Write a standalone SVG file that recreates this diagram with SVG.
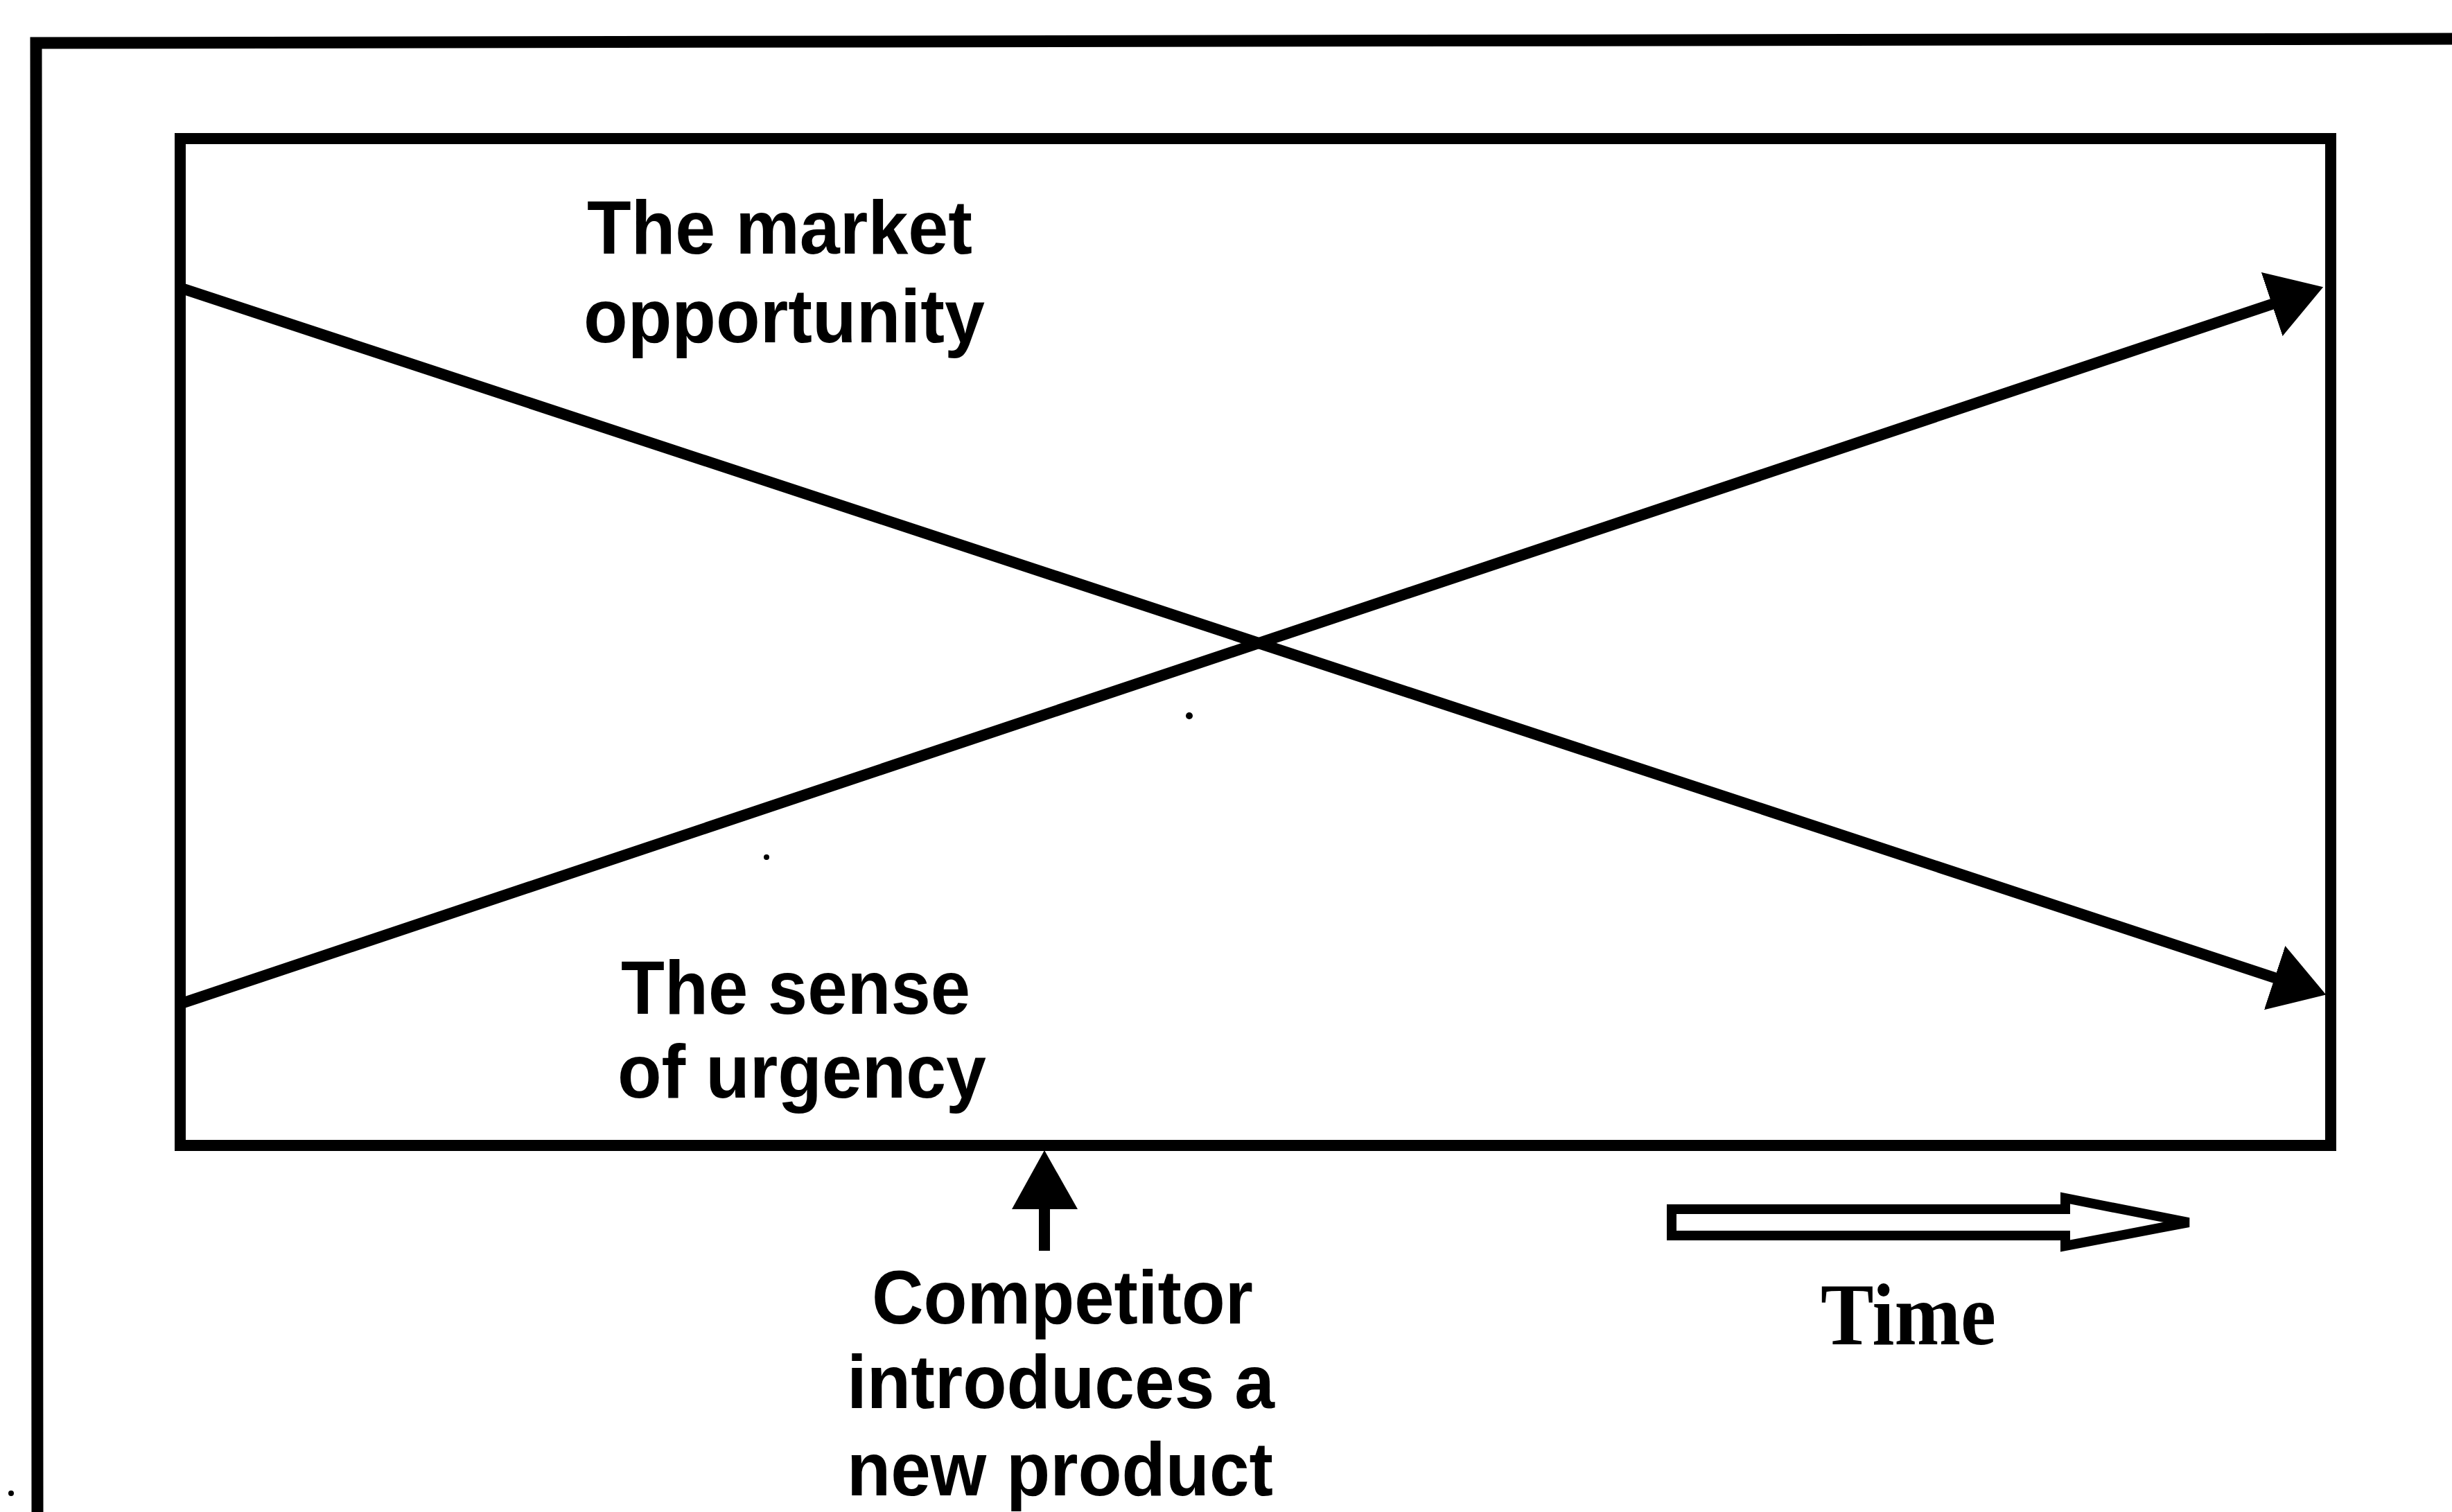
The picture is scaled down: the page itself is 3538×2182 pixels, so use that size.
<svg xmlns="http://www.w3.org/2000/svg" width="3538" height="2182" viewBox="0 0 3538 2182">
<defs>
<style>
.frame{fill:none;stroke:#000;stroke-width:17;stroke-linejoin:miter}
.box{fill:none;stroke:#000;stroke-width:16}
.ln{fill:none;stroke:#000;stroke-width:16}
.lbl{font-family:"Liberation Sans",Arial,sans-serif;font-weight:bold;font-size:110px;fill:#000}
.tm{font-family:"Liberation Serif","Times New Roman",serif;font-weight:bold;font-size:126px;fill:#000}
.dot{fill:#000}
</style>
<marker id="ah" markerUnits="userSpaceOnUse" markerWidth="80" markerHeight="100" refX="3" refY="48.5" orient="auto" viewBox="0 0 80 100">
<path d="M0,0 L78,48.5 L0,97 Z" fill="#000"/>
</marker>
</defs>
<rect width="3538" height="2182" fill="#fff"/>
<g id="frame">
<path class="frame" d="M54,2182 L52,62 L3538,56"/>
<circle class="dot" cx="16" cy="2155" r="4"/>
</g>
<g id="chart-box">
<rect class="box" x="260" y="200" width="3103" height="1453"/>
<circle class="dot" cx="1716" cy="1033" r="5"/>
<circle class="dot" cx="1106" cy="1237" r="4"/>
</g>
<g id="connectors">
<line id="market-line" class="ln" x1="262" y1="416" x2="3285" y2="1412" marker-end="url(#ah)"/>
<line id="urgency-line" class="ln" x1="262" y1="1448" x2="3281" y2="438" marker-end="url(#ah)"/>
<g id="competitor-arrow">
<line class="ln" x1="1507" y1="1740" x2="1507" y2="1805"/>
<polygon points="1507,1660 1555,1745 1460,1745" fill="#000"/>
</g>
<g id="time-arrow">
<polygon points="2412,1745 2980,1745 2980,1729 3158,1764 2980,1798 2980,1783 2412,1783" fill="#fff" stroke="#000" stroke-width="14" stroke-linejoin="miter"/>
</g>
</g>
<g id="label-market">
<text class="lbl" x="847" y="366" textLength="556" lengthAdjust="spacingAndGlyphs">The market</text>
<text class="lbl" x="842" y="494" textLength="579" lengthAdjust="spacingAndGlyphs">opportunity</text>
</g>
<g id="label-urgency">
<text class="lbl" x="896" y="1463" textLength="504" lengthAdjust="spacingAndGlyphs">The sense</text>
<text class="lbl" x="891" y="1584" textLength="532" lengthAdjust="spacingAndGlyphs">of urgency</text>
</g>
<g id="label-competitor">
<text class="lbl" x="1258" y="1910" textLength="550" lengthAdjust="spacingAndGlyphs">Competitor</text>
<text class="lbl" x="1222" y="2032" textLength="617" lengthAdjust="spacingAndGlyphs">introduces a</text>
<text class="lbl" x="1222" y="2158" textLength="615" lengthAdjust="spacingAndGlyphs">new product</text>
</g>
<g id="label-time">
<text class="tm" x="2627" y="1940" textLength="253" lengthAdjust="spacingAndGlyphs">Time</text>
</g>
</svg>
